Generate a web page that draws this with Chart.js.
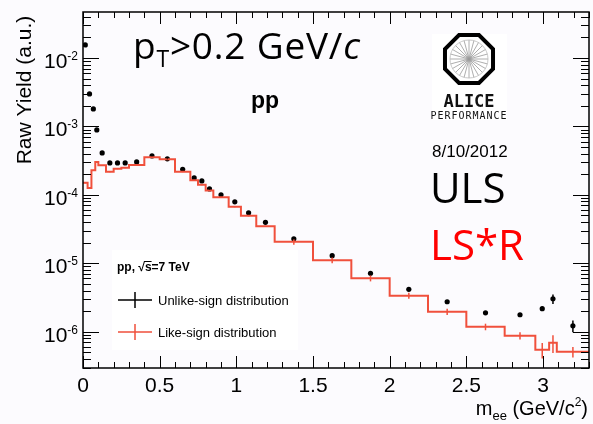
<!DOCTYPE html>
<html>
<head>
<meta charset="utf-8">
<script src="https://cdn.jsdelivr.net/npm/chart.js@4.4.1/dist/chart.umd.min.js"></script>
<style>
  html, body { margin: 0; padding: 0; background: #fcfbfe; }
  canvas { display: block; }
</style>
</head>
<body>
<canvas id="massChart" width="593" height="424"></canvas>
<script>
// Dielectron invariant mass spectrum, pp at 7 TeV

// --- Bin edges (GeV/c^2) ---
const binEdges = [0, 0.03, 0.055, 0.08, 0.1, 0.15, 0.2, 0.25, 0.3, 0.4, 0.5, 0.6, 0.7, 0.75, 0.8,
  0.85, 0.95, 1.03, 1.13, 1.25, 1.5, 1.75, 2.0, 2.25, 2.5, 2.75, 2.95, 3.04, 3.09, 3.3];

// Unlike-sign pairs (ULS)
const ulsYield = [1.55e-2, 2.98e-3, 1.80e-3, 8.9e-4, 4.1e-4, 2.93e-4, 2.93e-4, 2.93e-4, 3.03e-4,
  3.71e-4, 3.36e-4, 2.36e-4, 1.77e-4, 1.60e-4, 1.22e-4, 1.0e-4, 7.9e-5, 5.46e-5, 3.97e-5,
  2.28e-5, 1.29e-5, 7.14e-6, 4.17e-6, 2.74e-6, 1.89e-6, 1.77e-6, 2.17e-6, 3.03e-6, 1.22e-6];
const ulsError = [2e-4, 5e-5, 3e-5, 1.5e-5, 6e-6, 4e-6, 4e-6, 4e-6, 4e-6, 5e-6, 5e-6, 4e-6, 3e-6,
  3e-6, 2.5e-6, 2e-6, 1.6e-6, 1.2e-6, 9e-7, 5e-7, 3e-7, 2e-7, 1.2e-7, 1e-7, 8e-8, 9e-8,
  1.5e-7, 4.8e-7, 2.4e-7];

// Like-sign pairs scaled by R (LS*R)
const lsYield = [1.50e-4, 1.26e-4, 2.28e-4, 3.03e-4, 2.70e-4, 2.17e-4, 2.40e-4, 2.48e-4, 2.74e-4,
  3.53e-4, 3.30e-4, 2.17e-4, 1.63e-4, 1.40e-4, 1.16e-4, 9.2e-5, 6.68e-5, 4.93e-5, 3.47e-5,
  2.06e-5, 1.11e-5, 6.04e-6, 3.36e-6, 1.96e-6, 1.18e-6, 8.75e-7, 5.46e-7, 6.90e-7, 5.1e-7];
const lsError = [3e-6, 3e-6, 4e-6, 5e-6, 3e-6, 3e-6, 3e-6, 3e-6, 2e-6, 2.5e-6, 2.5e-6, 2e-6, 2e-6,
  2e-6, 1.5e-6, 1.2e-6, 1e-6, 9e-7, 7e-7, 2e-6, 1.1e-6, 6e-7, 3.4e-7, 2e-7, 1.3e-7, 1.05e-7,
  1.4e-7, 2e-7, 9e-8];

// Axis labels
const xTicks = [0, 0.5, 1, 1.5, 2, 2.5, 3];
const yDecades = [-6, -5, -4, -3, -2];

const RED = '#f0503c';
const binCenters = ulsYield.map((_, i) => (binEdges[i] + binEdges[i + 1]) / 2);

// histogram as stepped line: one point per left edge plus closing right edge
const lsSteps = binEdges.map((e, i) => ({ x: e, y: lsYield[Math.min(i, lsYield.length - 1)] }));
const ulsPoints = binCenters.map((m, i) => ({ x: m, y: ulsYield[i] }));

function supText(ctx, parts, x, y, align) {
  // parts: [text, font, dy]
  let total = 0;
  parts.forEach(p => { ctx.font = p[1]; total += ctx.measureText(p[0]).width; });
  let cx = align === 'right' ? x - total : align === 'center' ? x - total / 2 : x;
  ctx.textAlign = 'left';
  parts.forEach(p => {
    ctx.font = p[1];
    ctx.fillText(p[0], cx, y + (p[2] || 0));
    cx += ctx.measureText(p[0]).width;
  });
}

// --- error bars for both series ---
const errorBars = {
  id: 'errorBars',
  afterDatasetsDraw(chart) {
    const { ctx, chartArea: a, scales: { x, y } } = chart;
    ctx.save();
    ctx.beginPath();
    ctx.rect(a.left, a.top, a.right - a.left, a.bottom - a.top);
    ctx.clip();
    const bar = (m, v, e, color, w) => {
      const px = x.getPixelForValue(m);
      ctx.strokeStyle = color;
      ctx.lineWidth = w;
      ctx.beginPath();
      ctx.moveTo(px, y.getPixelForValue(Math.max(v - e, 1e-9)));
      ctx.lineTo(px, y.getPixelForValue(v + e));
      ctx.stroke();
    };
    binCenters.forEach((m, i) => bar(m, lsYield[i], lsError[i], RED, 1.5));
    binCenters.forEach((m, i) => bar(m, ulsYield[i], ulsError[i], '#000', 1.5));
    ctx.restore();
  }
};

// --- ROOT style frame, inward ticks, labels and annotations ---
const frame = {
  id: 'frame',
  afterDraw(chart) {
    const { ctx, chartArea: a, scales: { x, y } } = chart;
    ctx.save();
    ctx.strokeStyle = '#000';
    ctx.lineWidth = 1.5;
    ctx.strokeRect(a.left, a.top, a.right - a.left, a.bottom - a.top);

    ctx.lineWidth = 1;
    ctx.beginPath();
    for (let i = 0; i <= 33; i++) {
      const px = Math.round(x.getPixelForValue(i / 10)) + 0.5;
      const len = i % 5 === 0 ? 12 : 6;
      ctx.moveTo(px, a.bottom); ctx.lineTo(px, a.bottom - len);
      ctx.moveTo(px, a.top); ctx.lineTo(px, a.top + len);
    }
    for (let d = -7; d <= -1; d++) {
      for (let k = 1; k <= 9; k++) {
        const v = k * Math.pow(10, d);
        if (v < y.min || v > y.max) continue;
        const py = Math.round(y.getPixelForValue(v)) + 0.5;
        const len = k === 1 ? 16 : 8;
        ctx.moveTo(a.left, py); ctx.lineTo(a.left + len, py);
        ctx.moveTo(a.right, py); ctx.lineTo(a.right - len, py);
      }
    }
    ctx.stroke();

    // tick labels
    ctx.fillStyle = '#000';
    ctx.textBaseline = 'alphabetic';
    xTicks.forEach(t => {
      ctx.font = '21px "Liberation Sans", Arial, sans-serif';
      ctx.textAlign = 'center';
      ctx.fillText(String(t), x.getPixelForValue(t), 392);
    });
    yDecades.forEach(d => {
      const py = y.getPixelForValue(Math.pow(10, d));
      supText(ctx, [
        ['10', '21px "Liberation Sans", Arial, sans-serif', 10],
        [String(d), '12px "Liberation Sans", Arial, sans-serif', 2]
      ], 78, py, 'right');
    });

    // axis titles
    supText(ctx, [
      ['m', '20px "Liberation Sans", Arial, sans-serif', 0],
      ['ee', '13px "Liberation Sans", Arial, sans-serif', 5],
      [' (GeV/c', '20px "Liberation Sans", Arial, sans-serif', 0],
      ['2', '12px "Liberation Sans", Arial, sans-serif', -9],
      [')', '20px "Liberation Sans", Arial, sans-serif', 0]
    ], 588, 415, 'right');

    ctx.save();
    ctx.translate(31, 90);
    ctx.rotate(-Math.PI / 2);
    ctx.font = '21px "Liberation Sans", Arial, sans-serif';
    ctx.textAlign = 'center';
    ctx.fillText('Raw Yield (a.u.)', 0, 0);
    ctx.restore();

    // cut label
    ctx.letterSpacing = '0.8px';
    supText(ctx, [
      ['p', '37px "Open Sans", sans-serif', 0],
      ['T', '23px "Open Sans", sans-serif', 8],
      ['>0.2 GeV/', '37px "Open Sans", sans-serif', 0],
      ['c', 'italic 37px "Open Sans", sans-serif', 0]
    ], 133, 59, 'left');
    ctx.letterSpacing = '0px';

    ctx.font = 'bold 23px "Liberation Sans", Arial, sans-serif';
    ctx.textAlign = 'left';
    ctx.fillText('pp', 251, 108);

    // ALICE logo
    ctx.fillStyle = '#ffffff';
    ctx.fillRect(432, 34, 75, 86);
    const cx = 469, cy = 59, r = 26;
    ctx.strokeStyle = '#999';
    ctx.lineWidth = 0.8;
    ctx.beginPath();
    for (let s = 0; s < 24; s++) {
      const ang = s * Math.PI / 12;
      ctx.moveTo(cx, cy);
      ctx.lineTo(cx + Math.cos(ang) * 19, cy + Math.sin(ang) * 19);
    }
    ctx.stroke();
    ctx.strokeStyle = '#bbb';
    ctx.beginPath();
    ctx.arc(cx, cy, 19, 0, Math.PI * 2);
    ctx.stroke();
    ctx.strokeStyle = '#000';
    ctx.lineWidth = 4;
    ctx.lineJoin = 'miter';
    ctx.beginPath();
    for (let s = 0; s < 8; s++) {
      const ang = Math.PI / 8 + s * Math.PI / 4;
      const vx = cx + Math.cos(ang) * r, vy = cy + Math.sin(ang) * r;
      if (s === 0) ctx.moveTo(vx, vy); else ctx.lineTo(vx, vy);
    }
    ctx.closePath();
    ctx.stroke();
    ctx.fillStyle = '#111';
    ctx.textAlign = 'center';
    ctx.font = 'bold 17px "DejaVu Sans Mono", monospace';
    ctx.fillText('ALICE', cx, 107);
    ctx.font = '10px "DejaVu Sans Mono", monospace';
    ctx.letterSpacing = '1px';
    ctx.fillText('PERFORMANCE', cx, 119);
    ctx.letterSpacing = '0px';

    ctx.textAlign = 'left';
    ctx.fillStyle = '#000';
    ctx.font = '17px "Liberation Sans", Arial, sans-serif';
    ctx.fillText('8/10/2012', 432, 157);
    ctx.font = '42px "Open Sans", sans-serif';
    ctx.fillText('ULS', 430, 203);
    ctx.fillStyle = '#ff0000';
    ctx.fillText('LS*R', 430, 260);

    // legend box
    ctx.fillStyle = '#ffffff';
    ctx.fillRect(112, 250, 186, 100);
    ctx.fillStyle = '#000';
    ctx.font = 'bold 12px "Liberation Sans", Arial, sans-serif';
    ctx.fillText('pp, \u221As=7 TeV', 117, 271);
    const sqW = ctx.measureText('pp, \u221A').width;
    const sW = ctx.measureText('s').width;
    ctx.lineWidth = 1;
    ctx.beginPath();
    ctx.moveTo(117 + sqW - 1, 261.5); ctx.lineTo(117 + sqW + sW, 261.5);
    ctx.stroke();

    const entries = [['Unlike-sign distribution', '#000', 300], ['Like-sign distribution', RED, 332]];
    entries.forEach(([label, color, ly]) => {
      ctx.strokeStyle = color;
      ctx.lineWidth = 1.5;
      ctx.beginPath();
      ctx.moveTo(118, ly); ctx.lineTo(152, ly);
      ctx.moveTo(135, ly - 8); ctx.lineTo(135, ly + 8);
      ctx.stroke();
      ctx.fillStyle = '#000';
      ctx.font = '13px "Liberation Sans", Arial, sans-serif';
      ctx.fillText(label, 158, ly + 4.5);
    });
    ctx.restore();
  }
};

const ctx = document.getElementById('massChart').getContext('2d');
new Chart(ctx, {
  data: {
    datasets: [
      {
        type: 'line',
        label: 'LS*R',
        data: lsSteps,
        stepped: 'before',
        borderColor: RED,
        borderWidth: 2,
        pointRadius: 0,
        fill: false
      },
      {
        type: 'scatter',
        label: 'ULS',
        data: ulsPoints,
        pointRadius: 2.6,
        pointBackgroundColor: '#000',
        pointBorderWidth: 0
      }
    ]
  },
  options: {
    responsive: false,
    animation: false,
    devicePixelRatio: 1,
    layout: { padding: { left: 83, top: 12, right: 1, bottom: 56 } },
    plugins: { legend: { display: false }, tooltip: { enabled: false } },
    scales: {
      x: { type: 'linear', min: 0, max: 3.3, display: false },
      y: { type: 'logarithmic', min: 2.95e-7, max: 0.047, display: false }
    }
  },
  plugins: [errorBars, frame]
});
</script>
</body>
</html>
